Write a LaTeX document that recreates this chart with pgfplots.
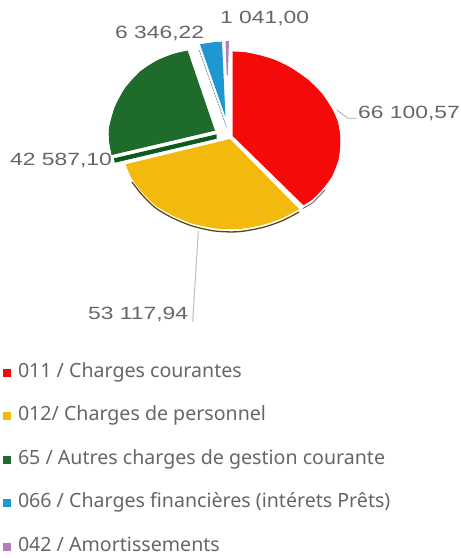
\documentclass[border=0pt]{standalone}
\usepackage{graphicx}
\usepackage{fontspec}
\setmainfont{Noto Sans}
\newfontfamily\labfont{Liberation Sans}
\usepackage{pgfplots}
\pgfplotsset{compat=1.18}
\definecolor{cRed}{HTML}{F50A0A}
\definecolor{cYel}{HTML}{F2B90F}
\definecolor{cGrn}{HTML}{1F6B2B}
\definecolor{cDGr}{HTML}{0C5A1C}
\definecolor{cBlu}{HTML}{1F98D2}
\definecolor{cPur}{HTML}{B57CBC}
\definecolor{cTxt}{HTML}{666666}
\newcommand{\dl}[1]{\scalebox{1.29}[1]{\labfont\fontsize{17.7}{20}\selectfont\color{cTxt}#1}}
\pgfplotsset{
  sq/.style={legend image code/.code={\fill[#1] (0pt,0.5pt) rectangle (8pt,8.5pt);}},
}
\begin{document}
\begin{tikzpicture}
\useasboundingbox (0,0) rectangle (461pt,558pt);
\begin{axis}[
  scale only axis, width=461pt, height=558pt,
  xmin=0, xmax=461, ymin=0, ymax=558, y dir=reverse,
  hide axis, clip=false,
  legend cell align=left,
  legend style={at={(axis cs:3,368.5)}, anchor=north west, draw=none, fill=none,
    inner sep=0pt, outer sep=0pt, row sep=33pt,
    font=\fontsize{19.6}{23.5}\selectfont\color{cTxt},
    /tikz/every odd column/.append style={column sep=7pt},
    nodes={inner xsep=0pt, inner ysep=1pt, anchor=base west, text depth=0.1em, text height=0.75em}},
]
% 011
\addplot[sq=cRed, draw=none, fill=cRed] coordinates {(232.7,136)(232.7,51.7)(245,52.3)(258.3,55)(275,60)(291.7,68.3)(308.3,80)(321.7,93.3)(331.7,108.3)(337.7,121.7)(340,135)(340,147)(338.3,160)(331.7,176.7)(321.7,190)(311.7,200)(303.3,205)(232.7,136)};
% 012
\addplot[sq=cYel, draw=none, fill=cYel] coordinates {(230,139)(125.7,164.3)(131.7,178.3)(141.7,191.7)(155,205)(171.7,215)(191.7,223.3)(215,228.3)(238.3,229)(261.7,225)(281.7,218.3)(299,209)(230,139)};
% 65
\addplot[sq=cGrn, draw=none, fill=cGrn] coordinates {(215,130.7)(187.7,50.7)(173.3,54)(156.7,60.7)(140,71.7)(125,88.3)(115,106.7)(109.3,126.7)(109,140)(111.7,155)(215,130.7)};
% 066
\addplot[sq=cBlu, draw=none, fill=cBlu] coordinates {(200,44.3)(208,43)(215,42)(222,41.7)(225.5,117)(200,44.3)};
% 042
\addplot[sq=cPur, draw=none, fill=cPur] coordinates {(225.5,41)(229,41)(227.8,75)(226.7,75)(225.5,41)};
\legend{011 / Charges courantes,012/ Charges de personnel,65 / Autres charges de gestion courante,066 / Charges financières (intérets Prêts),042 / Amortissements}
% smooth outer edges
\addplot[forget plot, smooth, draw=none, fill=cRed] coordinates {(232.7,51.7)(245,52.3)(258.3,55)(275,60)(291.7,68.3)(308.3,80)(321.7,93.3)(331.7,108.3)(337.7,121.7)(340,135)(340,147)(338.3,160)(331.7,176.7)(321.7,190)(311.7,200)(303.3,205)};
\addplot[forget plot, smooth, draw=none, fill=cYel] coordinates {(125.7,164.3)(131.7,178.3)(141.7,191.7)(155,205)(171.7,215)(191.7,223.3)(215,228.3)(238.3,229)(261.7,225)(281.7,218.3)(299,209)};
\addplot[forget plot, smooth, draw=none, fill=cGrn] coordinates {(187.7,50.7)(173.3,54)(156.7,60.7)(140,71.7)(125,88.3)(115,106.7)(109.3,126.7)(109,140)(111.7,155)};
% pie depth
\addplot[forget plot, smooth, draw={rgb,255:red,90;green,72;blue,20}, line width=1.3pt] coordinates {(132,182)(142,194.7)(155,207.5)(171.7,217.5)(191.7,225.8)(215,231)(238.3,231.7)(261.7,227.7)(281.7,221)(299,212)};
\addplot[forget plot, draw=none, fill=cDGr] coordinates {(114,158.3)(216.7,134.3)(216.7,138.7)(114.7,162.7)(114,158.3)};
\addplot[forget plot, draw={rgb,255:red,120;green,90;blue,120}, line width=0.9pt] coordinates {(303,208.5)(313,202.5)(325,190)};
\addplot[forget plot, dash pattern=on 2pt off 1pt, draw={rgb,255:red,130;green,165;blue,195}, line width=0.9pt] coordinates {(199,50)(226.5,127)};
% leaders
\addplot[forget plot, draw={rgb,255:red,170;green,170;blue,170}, line width=0.8pt] coordinates {(336.7,110)(348,118.3)(356.7,118.3)};
\addplot[forget plot, draw={rgb,255:red,190;green,190;blue,190}, line width=1pt] coordinates {(198.3,231)(192.7,321.7)};
% data labels
\node[anchor=west, inner sep=0pt] at (axis cs:358,113.5) {\dl{66 100,57}};
\node[anchor=west, inner sep=0pt] at (axis cs:88,314) {\dl{53 117,94}};
\node[anchor=west, inner sep=0pt] at (axis cs:10,160) {\dl{42 587,10}};
\node[anchor=west, inner sep=0pt] at (axis cs:115,33) {\dl{6 346,22}};
\node[anchor=west, inner sep=0pt] at (axis cs:220,18.5) {\dl{1 041,00}};
\end{axis}
\end{tikzpicture}
\end{document}
